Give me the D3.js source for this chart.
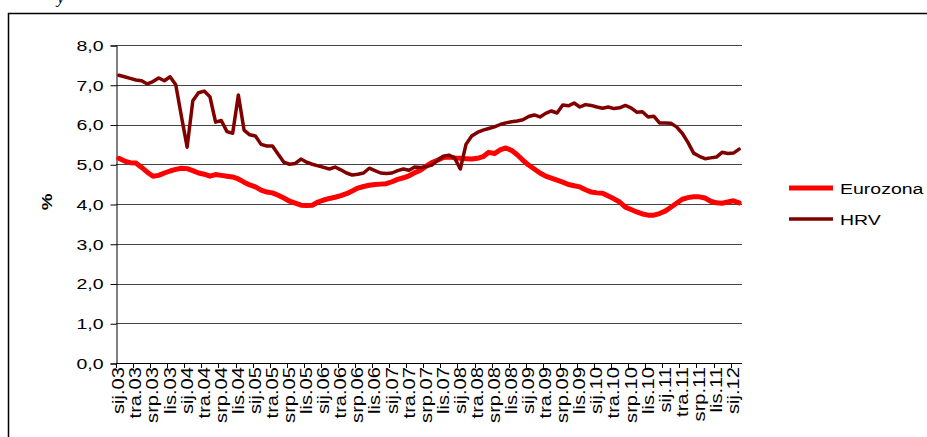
<!DOCTYPE html>
<html>
<head>
<meta charset="utf-8">
<script src="https://cdn.jsdelivr.net/npm/d3@7"></script>
<style>
  body { margin: 0; background: #fff; }
  svg { display: block; font-family: "Liberation Sans", Arial, sans-serif; }
</style>
</head>
<body>
<svg width="927" height="437"></svg>
<script>
// month names (Croatian) and years for the category axis
var monthNames = ["sij", "velj", "ožu", "tra", "svi", "lip", "srp", "kol", "ruj", "lis", "stu", "pro"];
var years = ["03", "04", "05", "06", "07", "08", "09", "10", "11", "12"];

// Eurozone rate, Jan 2003 - Feb 2012
var eurozona = [
  5.15, 5.08, 5.04, 5.03, 4.92, 4.80, 4.70, 4.72, 4.78, 4.83, 4.87, 4.90,
  4.89, 4.84, 4.78, 4.75, 4.70, 4.74, 4.72, 4.70, 4.68, 4.63, 4.55, 4.48,
  4.43, 4.35, 4.30, 4.28, 4.22, 4.15, 4.07, 4.02, 3.97, 3.96, 3.97, 4.05,
  4.10, 4.14, 4.17, 4.21, 4.26, 4.33, 4.40, 4.44, 4.47, 4.49, 4.50, 4.51,
  4.56, 4.62, 4.66, 4.71, 4.79, 4.85, 4.95, 5.04, 5.10, 5.17, 5.18, 5.16,
  5.15, 5.14, 5.13, 5.15, 5.19, 5.30, 5.27, 5.36, 5.41, 5.35, 5.24, 5.10,
  4.98, 4.88, 4.78, 4.70, 4.65, 4.60, 4.55, 4.49, 4.46, 4.43, 4.36, 4.30,
  4.28, 4.27, 4.20, 4.13, 4.05, 3.92, 3.86, 3.80, 3.75, 3.72, 3.72, 3.76,
  3.82, 3.92, 4.02, 4.12, 4.16, 4.18, 4.18, 4.15, 4.07, 4.03, 4.02, 4.05,
  4.08, 4.03
];

// Croatia rate, Jan 2003 - Feb 2012
var hrv = [
  7.24, 7.20, 7.16, 7.12, 7.10, 7.02, 7.08, 7.17, 7.10, 7.20, 7.00, 6.20,
  5.43, 6.60, 6.80, 6.84, 6.70, 6.06, 6.10, 5.82, 5.78, 6.74, 5.86, 5.74,
  5.71, 5.50, 5.46, 5.46, 5.25, 5.05, 5.00, 5.02, 5.13, 5.05, 5.00, 4.96,
  4.92, 4.88, 4.93, 4.86, 4.78, 4.73, 4.75, 4.78, 4.90, 4.84, 4.78, 4.77,
  4.78, 4.84, 4.88, 4.85, 4.93, 4.92, 4.94, 4.98, 5.10, 5.20, 5.23, 5.16,
  4.88, 5.50, 5.71, 5.80, 5.86, 5.90, 5.94, 6.00, 6.04, 6.07, 6.09, 6.12,
  6.20, 6.24, 6.19, 6.28, 6.34, 6.29, 6.49, 6.47, 6.54, 6.44, 6.50, 6.48,
  6.44, 6.41, 6.44, 6.40, 6.42, 6.48, 6.42, 6.31, 6.32, 6.19, 6.21, 6.04,
  6.04, 6.03, 5.94, 5.78, 5.55, 5.28, 5.20, 5.14, 5.16, 5.18, 5.30, 5.27,
  5.28, 5.38
];

var yTicks = [0, 1, 2, 3, 4, 5, 6, 7, 8];

var seriesNames = ["Eurozona", "HRV"];
var seriesColors = ["#ff0000", "#800000"];
var seriesWidths = [5, 3.5];

// build month categories
var months = [];
years.forEach(function (y) {
    monthNames.forEach(function (m) { months.push(m + "." + y); });
});
months = months.slice(0, eurozona.length);

var svg = d3.select("svg");

// outer frame of the embedded chart
svg.append("rect")
    .attr("x", 8.5).attr("y", 13.5)
    .attr("width", 1000).attr("height", 500)
    .attr("fill", "none")
    .attr("stroke", "#000")
    .attr("stroke-width", 1.5);

// bit of text above the frame
svg.append("text")
    .attr("x", 57).attr("y", 3)
    .style("font-family", "'Liberation Serif', serif")
    .style("font-style", "italic")
    .style("font-size", "17px")
    .text("y");

var x = d3.scaleBand()
    .domain(months)
    .range([116, 742])
    .paddingInner(0).paddingOuter(0);

var y = d3.scaleLinear()
    .domain([0, 8])
    .range([363, 45]);

// gridlines
svg.append("g")
    .selectAll("line")
    .data(yTicks.slice(1))
    .enter()
    .append("line")
    .attr("x1", 116).attr("x2", 742)
    .attr("y1", function (d) { return Math.round(y(d)) + 0.5; })
    .attr("y2", function (d) { return Math.round(y(d)) + 0.5; })
    .attr("stroke", "#444")
    .attr("stroke-width", 1);

// y axis
var yAxis = svg.append("g")
    .attr("transform", "translate(116.5,0.5)")
    .call(d3.axisLeft(y)
        .tickValues(yTicks)
        .tickSize(6)
        .tickPadding(7)
        .tickFormat(function (d) { return d3.format(".1f")(d).replace(".", ","); }));
yAxis.select(".domain").attr("stroke", "#000");
yAxis.selectAll(".tick line").attr("stroke", "#000");
yAxis.selectAll(".tick text")
    .attr("fill", "#000")
    .style("font-size", "15px")
    .attr("transform", "translate(-13,0) scale(1.3,1) translate(13,0)");

svg.append("text")
    .attr("transform", "translate(52,202) rotate(-90) scale(1.25,1)")
    .attr("text-anchor", "middle")
    .style("font-size", "15px")
    .style("font-weight", "bold")
    .text("%");

// x axis: ticks every 3 months on category boundaries
var xg = svg.append("g");
xg.append("line")
    .attr("x1", 116).attr("x2", 742)
    .attr("y1", 363.5).attr("y2", 363.5)
    .attr("stroke", "#000");

var tickIdx = d3.range(0, months.length + 1, 3);
xg.selectAll(".xt")
    .data(tickIdx)
    .enter()
    .append("line")
    .attr("class", "xt")
    .attr("x1", function (i) { return Math.round(116 + i * x.step()) + 0.5; })
    .attr("x2", function (i) { return Math.round(116 + i * x.step()) + 0.5; })
    .attr("y1", 363).attr("y2", 368)
    .attr("stroke", "#000");

var labelMonths = months.filter(function (m, i) { return i % 3 === 0; });
xg.selectAll(".xl")
    .data(labelMonths)
    .enter()
    .append("text")
    .attr("class", "xl")
    .attr("transform", function (d) {
        return "translate(" + (x(d) + x.bandwidth() / 2 + 5.5) + ",367) rotate(-90) scale(1.22,1)";
    })
    .attr("text-anchor", "end")
    .style("font-size", "16.5px")
    .text(function (d) { return d; });

// series lines
var line = d3.line()
    .x(function (d, i) { return x(months[i]) + x.bandwidth() / 2; })
    .y(function (d) { return y(d); });

[eurozona, hrv].forEach(function (s, k) {
    svg.append("path")
        .datum(s)
        .attr("d", line)
        .attr("fill", "none")
        .attr("stroke", seriesColors[k])
        .attr("stroke-width", seriesWidths[k])
        .attr("stroke-linejoin", "round")
        .attr("stroke-linecap", "round");
});

// legend
var legend = svg.append("g")
    .selectAll("g")
    .data(seriesNames)
    .enter()
    .append("g")
    .attr("transform", function (d, i) { return "translate(789," + (188 + i * 31) + ")"; });

legend.append("line")
    .attr("x1", 0).attr("x2", 44)
    .attr("stroke", function (d, i) { return seriesColors[i]; })
    .attr("stroke-width", function (d, i) { return seriesWidths[i]; });

legend.append("text")
    .attr("transform", "translate(51,6) scale(1.3,1)")
    .style("font-size", "15px")
    .text(function (d) { return d; });
</script>
</body>
</html>
